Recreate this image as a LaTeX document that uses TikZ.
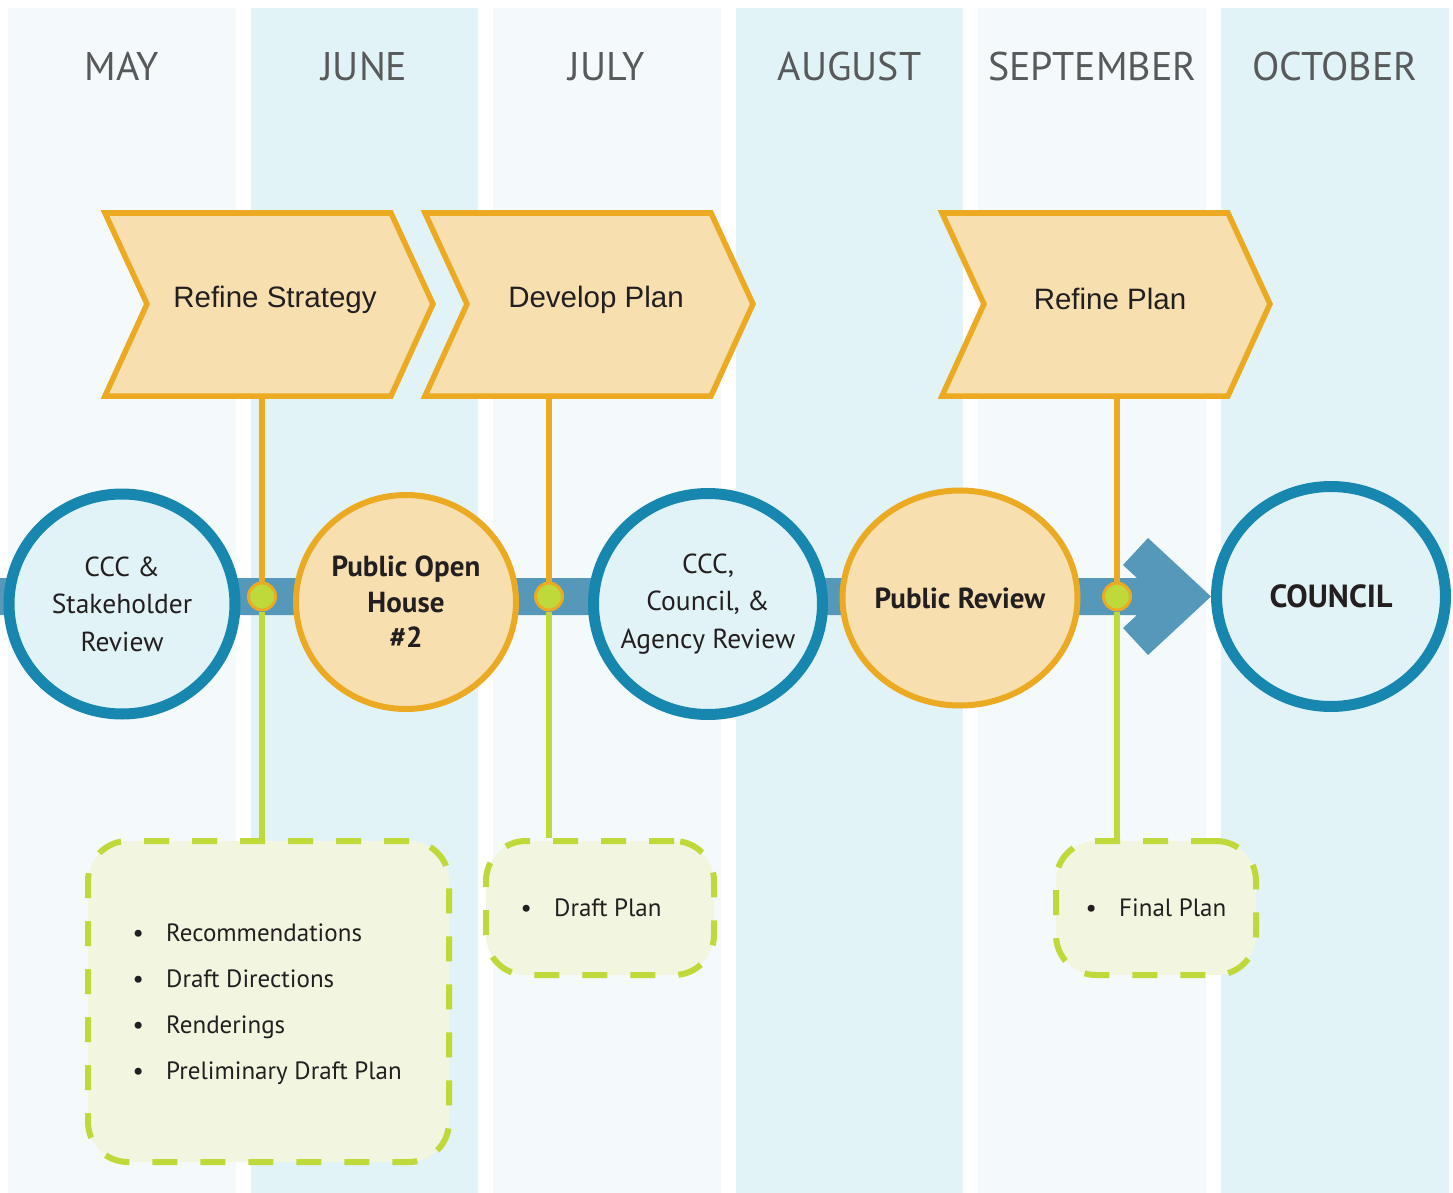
\documentclass[tikz,border=0pt]{standalone}
\usepackage{fontspec}
\setmainfont{PT Sans}
\newfontfamily\helv{Liberation Sans}
\usetikzlibrary{shapes.geometric,positioning}

\definecolor{palecol}{HTML}{F4FAFB}
\definecolor{bluecol}{HTML}{E1F3F7}
\definecolor{chevfill}{HTML}{F7DFB0}
\definecolor{gold}{HTML}{ECAA22}
\definecolor{teal}{HTML}{1787B0}
\definecolor{barblue}{HTML}{5598BA}
\definecolor{lime}{HTML}{BFD83A}
\definecolor{boxfill}{HTML}{F2F6E0}
\definecolor{ink}{HTML}{231F20}
\definecolor{monthgray}{HTML}{58595B}

\tikzset{
  monthlbl/.style={anchor=base, text=monthgray, font=\fontsize{40}{44}\selectfont},
  phase/.style={draw=gold, fill=chevfill, line width=5.5pt, line join=miter},
  phaselbl/.style={anchor=base, text=ink, font=\helv\fontsize{29.5}{32}\selectfont},
  review/.style={ellipse, draw=teal, fill=bluecol, line width=11pt, align=center,
    text=ink, inner sep=-20pt, font=\fontsize{27.5}{37.5}\selectfont},
  event/.style={ellipse, draw=gold, fill=chevfill, line width=6pt, align=center,
    text=ink, inner sep=-20pt, font=\bfseries\fontsize{29}{35.5}\selectfont},
  joint/.style={circle, fill=lime, draw=gold, line width=3pt, minimum size=27pt, inner sep=0pt},
  feed/.style={draw=gold, line width=5.5pt},
  deliv/.style={draw=lime, line width=5.5pt},
  outbox/.style={draw=lime, fill=boxfill, line width=6pt, rounded corners=40pt,
    dash pattern=on 25pt off 23pt, inner sep=0pt},
  itemlbl/.style={anchor=base west, inner sep=0pt, text=ink, font=\fontsize{25}{30}\selectfont},
}
\newcommand\dotitem[1]{\makebox[0pt]{\textbullet}\hspace{28pt}#1}

\begin{document}
\begin{tikzpicture}[x=1pt, y=-1pt]
  \useasboundingbox (0,0) rectangle (1453,1193);

  % month columns
  \foreach \m/\c [count=\i from 0] in {MAY/palecol, JUNE/bluecol, JULY/palecol,
      AUGUST/bluecol, SEPTEMBER/palecol, OCTOBER/bluecol} {
    \fill[\c] ({8+242.6*\i},8) rectangle ++(227.5,1185);
    \node[monthlbl] (month\i) at ({121.75+242.6*\i},81) {\m};
  }

  % timeline bar with arrow head
  \fill[barblue] (0,578) -- (1137,578) -- (1123,565) -- (1148,538) -- (1211,596.5)
    -- (1148,655) -- (1123,628) -- (1137,615) -- (0,615) -- cycle;

  % phases
  \foreach \x in {105,425,942}
    \draw[phase] (\x,213) -- ++(286,0) -- ++(42,91) -- ++(-42,92) -- ++(-286,0)
      -- ++(42,-92) -- cycle;
  \node[phaselbl] (strategy) at (275,307) {Refine Strategy};
  \node[phaselbl] (develop) at (596,307) {Develop Plan};
  \node[phaselbl] (refine) at (1110,309) {Refine Plan};
  \coordinate (strategy-foot) at (262,396);
  \coordinate (develop-foot) at (549,396);
  \coordinate (refine-foot) at (1117,396);

  % deliverables
  \node[outbox, minimum width=361pt, minimum height=321pt] (box1) at (268.5,1001.5) {};
  \node[outbox, minimum width=228pt, minimum height=134pt] (box2) at (600,908) {};
  \node[outbox, minimum width=200pt, minimum height=134pt] (box3) at (1156,908) {};
  \foreach \t [count=\k from 0] in {Recommendations, Draft Directions, Renderings,
      Preliminary Draft Plan}
    \node[itemlbl] (item\k) at (138,{941+46*\k}) {\dotitem{\t}};
  \node[itemlbl] (draftplan) at (526,916) {\dotitem{Draft Plan}};
  \node[itemlbl] (finalplan) at (1091,916) {\dotitem{Final Plan}};

  % meetings
  \node[review, minimum width=226pt, minimum height=220pt] (stake) at (122,604)
    {CCC \&\\Stakeholder\\Review};
  \node[event, minimum width=220pt, minimum height=214pt] (openhouse) at (406,602)
    {Public Open\\House\\\#2};
  \node[review, minimum width=229pt, minimum height=221pt] (agency) at (708,604)
    {CCC,\\Council, \&\\Agency Review};
  \node[event, minimum width=235pt, minimum height=215pt] (pubreview) at (960,598)
    {Public Review};
  \node[review, minimum width=229pt, minimum height=220pt,
    font=\bfseries\fontsize{32}{34}\selectfont] (council) at (1331,596.5) {COUNCIL};

  % joints on the bar
  \node[joint] (j1) at (262,596.5) {};
  \node[joint] (j2) at (549,596.5) {};
  \node[joint] (j3) at (1117,596.5) {};

  \draw[feed] (strategy-foot) -- (j1);
  \draw[feed] (develop-foot) -- (j2);
  \draw[feed] (refine-foot) -- (j3);
  \draw[deliv] (j1) -- (j1 |- box1.north);
  \draw[deliv] (j2) -- (j2 |- box2.north);
  \draw[deliv] (j3) -- (j3 |- box3.north);
\end{tikzpicture}
\end{document}
